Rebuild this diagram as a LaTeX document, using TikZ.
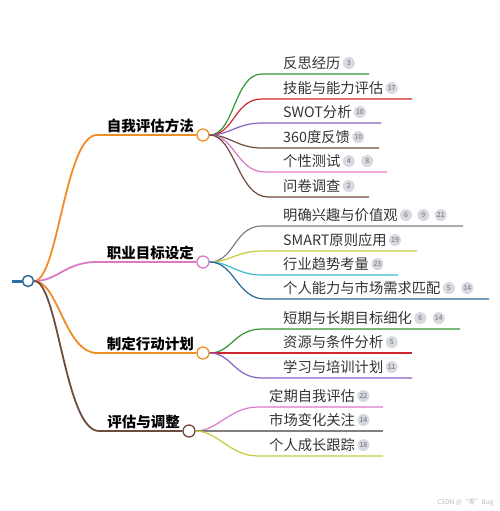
\documentclass[tikz,border=0pt]{standalone}
\usepackage{fontspec}
\setmainfont{Noto Sans CJK SC}
\usepackage{tikz}
\usetikzlibrary{positioning}
\definecolor{rootblue}{RGB}{46,110,160}
\definecolor{myorange}{RGB}{240,140,40}
\definecolor{mypink}{RGB}{220,120,200}
\definecolor{mybrown}{RGB}{110,75,60}
\definecolor{mygreen}{RGB}{50,150,50}
\definecolor{myred}{RGB}{205,40,45}
\definecolor{mypurple}{RGB}{135,95,195}
\definecolor{mygray}{RGB}{128,128,128}
\definecolor{myolive}{RGB}{200,200,60}
\definecolor{mycyan}{RGB}{60,185,205}
\definecolor{myblue}{RGB}{40,105,150}
\definecolor{badgefill}{RGB}{214,217,224}
\definecolor{badgetext}{RGB}{110,110,120}
\definecolor{watermark}{RGB}{185,185,190}
\tikzset{
  rootdot/.style={circle, draw=rootblue, fill=white, line width=1.5pt,
    minimum size=11pt, inner sep=0pt},
  hubdot/.style={circle, fill=white, line width=1.3pt,
    minimum size=12pt, inner sep=0pt},
  mainlabel/.style={font=\fontsize{14.5}{16}\selectfont\bfseries,
    inner sep=0pt, anchor=base east},
  leaf/.style={font=\fontsize{14.3}{16}\selectfont, inner sep=0pt,
    anchor=base west, text=black!80},
  badge/.style={circle, fill=badgefill, text=badgetext, minimum size=12pt,
    inner sep=0pt, font=\fontsize{7}{8}\selectfont},
  mainline/.style={line width=1.8pt},
  subline/.style={line width=1.2pt}
}
\begin{document}
\begin{tikzpicture}[x=1pt, y=-1pt]
  \useasboundingbox (0,0) rectangle (500,511);

  % Root
  \node[rootdot] (root) at (28,281) {};
  \coordinate (stub) at (12,281);
  \draw[rootblue, line width=3pt] (stub) -- (root.west);

  % Main branches
  \node[hubdot, draw=myorange] (b1) at (203,135) {};
  \node[hubdot, draw=mypink] (b2) at (203,262) {};
  \node[hubdot, draw=myorange] (b3) at (203,353) {};
  \node[hubdot, draw=mybrown] (b4) at (189,431) {};
  \coordinate (h1) at (97,135);
  \coordinate (h2) at (97,262);
  \coordinate (h3) at (97,353);
  \coordinate (h4) at (99,431);
  \draw[mainline, myorange] (root.east) .. controls (58,281) and (65,135) .. (h1) -- (b1.west);
  \draw[mainline, mypink] (root.east) .. controls (58,281) and (65,262) .. (h2) -- (b2.west);
  \draw[mainline, myorange] (root.east) .. controls (58,281) and (65,353) .. (h3) -- (b3.west);
  \draw[mainline, mybrown] (root.east) .. controls (58,281) and (65,431) .. (h4) -- (b4.west);
  \node[mainlabel] (l1) at (194,131) {自我评估方法};
  \node[mainlabel] (l2) at (194,258) {职业目标设定};
  \node[mainlabel] (l3) at (194,349) {制定行动计划};
  \node[mainlabel] (l4) at (180,427) {评估与调整};

  % Branch 1
  \coordinate (c11) at (262,74);  \coordinate (e11) at (369,74);
  \coordinate (c12) at (262,99);  \coordinate (e12) at (412,99);
  \coordinate (c13) at (262,123); \coordinate (e13) at (381,123);
  \coordinate (c14) at (262,148); \coordinate (e14) at (379,148);
  \coordinate (c15) at (265,172); \coordinate (e15) at (387,172);
  \coordinate (c16) at (268,197); \coordinate (e16) at (369,197);
  \draw[subline, mygreen] (b1.east) .. controls +(25,0) and +(-28,0) .. (c11) -- (e11);
  \draw[subline, myred] (b1.east) .. controls +(25,0) and +(-28,0) .. (c12) -- (e12);
  \draw[subline, mypurple] (b1.east) .. controls +(20,0) and +(-25,0) .. (c13) -- (e13);
  \draw[subline, mybrown] (b1.east) .. controls +(20,0) and +(-25,0) .. (c14) -- (e14);
  \draw[subline, mypink] (b1.east) .. controls +(25,0) and +(-28,0) .. (c15) -- (e15);
  \draw[subline, mybrown] (b1.east) .. controls +(25,0) and +(-30,0) .. (c16) -- (e16);
  \node[leaf] (t11) at (283,68.5) {反思经历};
  \node[badge, right=2pt of t11] (t11a) {3};
  \node[leaf] (t12) at (283,93.5) {技能与能力评估};
  \node[badge, right=2pt of t12] (t12a) {17};
  \node[leaf] (t13) at (283,117.5) {SWOT分析};
  \node[badge, right=2pt of t13] (t13a) {10};
  \node[leaf] (t14) at (283,142.5) {360度反馈};
  \node[badge, right=2pt of t14] (t14a) {10};
  \node[leaf] (t15) at (283,166.5) {个性测试};
  \node[badge, right=2pt of t15] (t15a) {4};
  \node[badge, right=6pt of t15a] (t15b) {8};
  \node[leaf] (t16) at (283,191.5) {问卷调查};
  \node[badge, right=2pt of t16] (t16a) {2};

  % Branch 2
  \coordinate (c21) at (262,226); \coordinate (e21) at (463,226);
  \coordinate (c22) at (262,251); \coordinate (e22) at (417,251);
  \coordinate (c23) at (262,275); \coordinate (e23) at (398,275);
  \coordinate (c24) at (265,299); \coordinate (e24) at (489,299);
  \draw[subline, mygray] (b2.east) .. controls +(25,0) and +(-28,0) .. (c21) -- (e21);
  \draw[subline, myolive] (b2.east) .. controls +(20,0) and +(-25,0) .. (c22) -- (e22);
  \draw[subline, mycyan] (b2.east) .. controls +(20,0) and +(-25,0) .. (c23) -- (e23);
  \draw[subline, myblue] (b2.east) .. controls +(25,0) and +(-28,0) .. (c24) -- (e24);
  \node[leaf] (t21) at (283,220.5) {明确兴趣与价值观};
  \node[badge, right=2pt of t21] (t21a) {6};
  \node[badge, right=5pt of t21a] (t21b) {9};
  \node[badge, right=5pt of t21b] (t21c) {21};
  \node[leaf] (t22) at (283,245.5) {SMART原则应用};
  \node[badge, right=2pt of t22] (t22a) {19};
  \node[leaf] (t23) at (283,269.5) {行业趋势考量};
  \node[badge, right=2pt of t23] (t23a) {23};
  \node[leaf] (t24) at (283,293.5) {个人能力与市场需求匹配};
  \node[badge, right=2pt of t24] (t24a) {5};
  \node[badge, right=6pt of t24a] (t24b) {14};

  % Branch 3
  \coordinate (c31) at (262,329); \coordinate (e31) at (460,329);
  \coordinate (e32) at (412,353);
  \coordinate (c33) at (262,378); \coordinate (e33) at (412,378);
  \draw[subline, mygreen] (b3.east) .. controls +(22,0) and +(-28,0) .. (c31) -- (e31);
  \draw[subline, myred] (b3.east) -- (e32);
  \draw[subline, mypurple] (b3.east) .. controls +(22,0) and +(-28,0) .. (c33) -- (e33);
  \node[leaf] (t31) at (283,323.5) {短期与长期目标细化};
  \node[badge, right=2pt of t31] (t31a) {6};
  \node[badge, right=6pt of t31a] (t31b) {14};
  \node[leaf] (t32) at (283,347.5) {资源与条件分析};
  \node[badge, right=2pt of t32] (t32a) {5};
  \node[leaf] (t33) at (283,372.5) {学习与培训计划};
  \node[badge, right=2pt of t33] (t33a) {11};

  % Branch 4
  \coordinate (c41) at (258,407); \coordinate (e41) at (383,407);
  \coordinate (e42) at (383,431);
  \coordinate (c43) at (258,456); \coordinate (e43) at (383,456);
  \draw[subline, mypink] (b4.east) .. controls +(22,0) and +(-28,0) .. (c41) -- (e41);
  \draw[subline, mygray] (b4.east) -- (e42);
  \draw[subline, myolive] (b4.east) .. controls +(22,0) and +(-28,0) .. (c43) -- (e43);
  \node[leaf] (t41) at (269,401.5) {定期自我评估};
  \node[badge, right=2pt of t41] (t41a) {22};
  \node[leaf] (t42) at (269,425.5) {市场变化关注};
  \node[badge, right=2pt of t42] (t42a) {14};
  \node[leaf] (t43) at (269,450.5) {个人成长跟踪};
  \node[badge, right=2pt of t43] (t43a) {18};

  \node[font=\fontsize{6.5}{7}\selectfont, text=watermark, anchor=east] (wm) at (497,503) {CSDN @“零”Bug};
\end{tikzpicture}
\end{document}
